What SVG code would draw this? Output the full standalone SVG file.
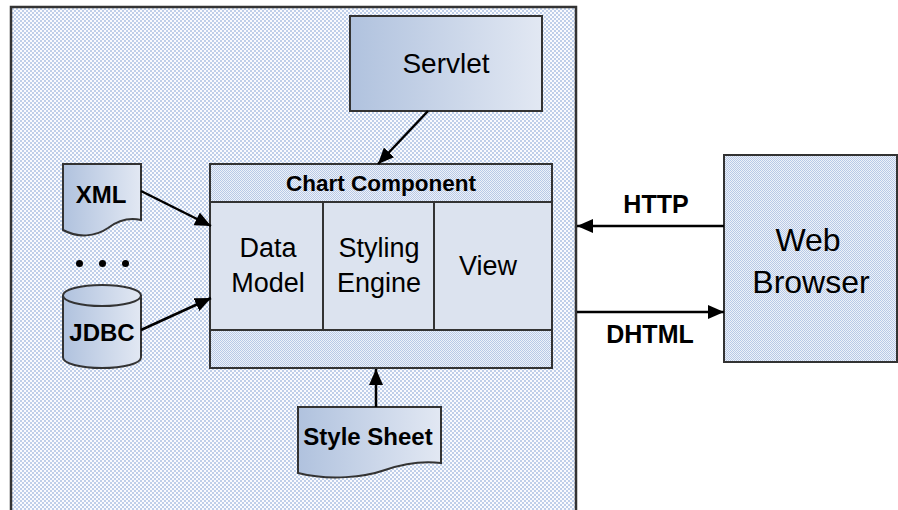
<svg xmlns="http://www.w3.org/2000/svg" width="898" height="510" viewBox="0 0 898 510">
  <defs>
    <!-- coarse checker used for the server container -->
    <pattern id="chkCoarse" width="4" height="4" patternUnits="userSpaceOnUse">
      <rect width="4" height="4" fill="#fafbfe"/>
      <rect width="2" height="2" fill="#bfcfe9"/>
      <rect x="2" y="2" width="2" height="2" fill="#bfcfe9"/>
    </pattern>
    <!-- fine checker used for bands and the browser box -->
    <pattern id="chkFine" width="2" height="2" patternUnits="userSpaceOnUse">
      <rect width="2" height="2" fill="#eef2f9"/>
      <rect width="1" height="1" fill="#b8c9e6"/>
      <rect x="1" y="1" width="1" height="1" fill="#b8c9e6"/>
    </pattern>
    <linearGradient id="shade" x1="0" y1="0" x2="1" y2="0">
      <stop offset="0" stop-color="#b0c2de"/>
      <stop offset="1" stop-color="#e2e8f3"/>
    </linearGradient>
    <marker id="arrow" viewBox="0 0 16 14" refX="16" refY="7" markerWidth="16" markerHeight="14" markerUnits="userSpaceOnUse" orient="auto">
      <path d="M0,0 L16,7 L0,14 Z" fill="#000"/>
    </marker>
  </defs>
  <style>
    .box { stroke: #333; stroke-width: 2; }
    .lbl { font-family: "Liberation Sans", Arial, sans-serif; fill: #000; text-anchor: middle; }
    .b { font-weight: bold; }
    .conn { stroke: #000; stroke-width: 2.5; fill: none; marker-end: url(#arrow); }
  </style>

  <rect width="898" height="510" fill="#fff"/>

  <!-- application server container -->
  <g id="server">
    <path d="M11,512 V7 H576 V512" fill="url(#chkCoarse)" stroke="#333" stroke-width="2.5"/>
  </g>

  <g id="servlet">
    <rect class="box" x="350" y="16" width="192" height="95" fill="url(#shade)"/>
    <text class="lbl" x="446" y="73" font-size="28">Servlet</text>
  </g>

  <g id="chart-component">
    <rect class="box" x="210" y="164" width="342" height="204" fill="url(#chkFine)"/>
    <rect class="box" x="210" y="202" width="342" height="128" fill="#dce3ef"/>
    <line class="box" x1="323" y1="202" x2="323" y2="330"/>
    <line class="box" x1="434" y1="202" x2="434" y2="330"/>
    <text class="lbl b" x="381" y="191" font-size="22.5">Chart Component</text>
    <text class="lbl" x="268" y="257" font-size="27">Data</text>
    <text class="lbl" x="268" y="292" font-size="27">Model</text>
    <text class="lbl" x="379" y="257" font-size="27">Styling</text>
    <text class="lbl" x="379" y="292" font-size="27">Engine</text>
    <text class="lbl" x="488" y="275" font-size="27">View</text>
  </g>

  <g id="xml">
    <path class="box" d="M63,164 H141 V220 C132,218 120,219 108,228 C95,237 78,238 63,230 Z" fill="url(#shade)"/>
    <text class="lbl b" x="101" y="203" font-size="24">XML</text>
  </g>

  <g id="more-sources">
    <circle cx="79.5" cy="263.5" r="3.5" fill="#000"/>
    <circle cx="102.5" cy="263.5" r="3.5" fill="#000"/>
    <circle cx="125.5" cy="263.5" r="3.5" fill="#000"/>
  </g>

  <g id="jdbc">
    <path class="box" d="M63,295.5 V357.5 A39,10.5 0 0 0 141,357.5 V295.5 A39,10.5 0 0 0 63,295.5 Z" fill="url(#shade)"/>
    <path class="box" d="M63,295.5 A39,10.5 0 0 0 141,295.5" fill="none"/>
    <text class="lbl b" x="102" y="341" font-size="24">JDBC</text>
  </g>

  <g id="style-sheet">
    <path class="box" d="M298,407 H441 V463 C425,461 405,463 385,470 C365,477 330,481 298,473 Z" fill="url(#shade)"/>
    <text class="lbl b" x="368" y="445" font-size="24">Style Sheet</text>
  </g>

  <g id="web-browser">
    <rect class="box" x="724" y="155" width="173" height="207" fill="url(#chkFine)"/>
    <text class="lbl" x="808" y="251" font-size="32">Web</text>
    <text class="lbl" x="811" y="293" font-size="32">Browser</text>
  </g>

  <g id="connectors">
    <line class="conn" x1="428" y1="111" x2="378" y2="164"/>
    <line class="conn" x1="141" y1="191" x2="211" y2="226"/>
    <line class="conn" x1="141" y1="330" x2="211" y2="298"/>
    <line class="conn" x1="376" y1="407" x2="376" y2="369"/>
    <line class="conn" x1="724" y1="226" x2="577" y2="226"/>
    <line class="conn" x1="577" y1="312" x2="724" y2="312"/>
    <text class="lbl b" x="656" y="213" font-size="25">HTTP</text>
    <text class="lbl b" x="650" y="343" font-size="25">DHTML</text>
  </g>
</svg>
